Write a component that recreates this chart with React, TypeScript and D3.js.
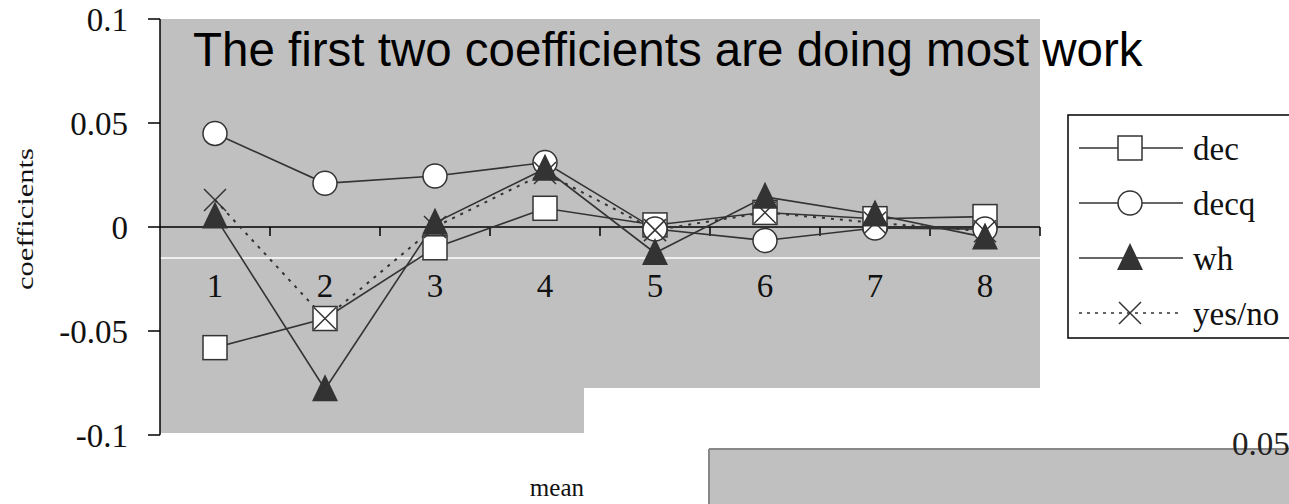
import React, { useEffect, useRef } from 'react';
import * as d3 from 'd3';

const categories = ['1', '2', '3', '4', '5', '6', '7', '8'];
const decValues = [-0.058, -0.044, -0.010, 0.009, 0.001, 0.007, 0.004, 0.005];
const decqValues = [0.045, 0.021, 0.0245, 0.031, -0.001, -0.0065, -0.0005, -0.001];
const whValues = [0.005, -0.078, 0.002, 0.028, -0.0125, 0.0145, 0.006, -0.005];
const yesnoValues = [0.013, -0.044, 0.0, 0.026, -0.0015, 0.007, 0.002, -0.002];
const yTicks = [-0.1, -0.05, 0, 0.05, 0.1];
const yTickLabels = ['-0.1', '-0.05', '0', '0.05', '0.1'];
const seriesNames = ['dec', 'decq', 'wh', 'yes/no'];

const INK = '#333';
const GREY = '#c0c0c0';
const SERIF = '"Liberation Serif", "Times New Roman", serif';

function drawMarker(g: d3.Selection<SVGGElement, unknown, null, undefined>, kind: string) {
  if (kind === 'dec') {
    g.append('rect').attr('x', -12).attr('y', -12).attr('width', 24).attr('height', 24)
      .attr('fill', '#fff').attr('stroke', INK).attr('stroke-width', 1.5);
  } else if (kind === 'decq') {
    g.append('circle').attr('r', 12).attr('fill', '#fff').attr('stroke', INK).attr('stroke-width', 1.5);
  } else if (kind === 'wh') {
    g.append('path').attr('d', 'M0,-15L13,12L-13,12Z').attr('fill', INK);
  } else {
    g.append('path').attr('d', 'M-11,-11L11,11M11,-11L-11,11')
      .attr('stroke', INK).attr('stroke-width', 1.5).attr('fill', 'none');
  }
}

function App() {
  const ref = useRef<SVGSVGElement>(null);

  useEffect(() => {
    if (!ref.current) return;
    const svg = d3.select(ref.current);
    svg.selectAll('*').remove();

    const left = 160, right = 1040, top = 19, bottom = 435;
    const x = d3.scaleBand().domain(categories).range([left, right]);
    const y = d3.scaleLinear().domain([-0.1, 0.1]).range([bottom, top]);
    const cx = (c: string) => (x(c) as number) + x.bandwidth() / 2;

    // grey plot background, with the notch cut out bottom right
    svg.append('path')
      .attr('d', `M${left},${top}H${right}V388H584V${bottom - 2}H${left}Z`)
      .attr('fill', GREY);

    // lower grey panel (part of another chart)
    svg.append('rect').attr('x', 709).attr('y', 449).attr('width', 600).attr('height', 80).attr('fill', GREY);
    svg.append('line').attr('x1', 709).attr('x2', 1289).attr('y1', 449).attr('y2', 449)
      .attr('stroke', '#888').attr('stroke-width', 2);
    svg.append('line').attr('x1', 709).attr('x2', 709).attr('y1', 449).attr('y2', 504)
      .attr('stroke', '#888').attr('stroke-width', 2);
    svg.append('text').attr('x', 1232).attr('y', 455).attr('font-family', SERIF)
      .attr('font-size', 33).attr('fill', '#222').text('0.05');

    // white stripe across plot
    svg.append('line').attr('x1', left).attr('x2', right).attr('y1', 258).attr('y2', 258)
      .attr('stroke', '#fff').attr('stroke-width', 1.5);

    // y axis
    const yAxis = svg.append('g');
    yAxis.append('line').attr('x1', left).attr('x2', left).attr('y1', top).attr('y2', bottom)
      .attr('stroke', '#000').attr('stroke-width', 1.5);
    yTicks.forEach((t, i) => {
      yAxis.append('line').attr('x1', left - 12).attr('x2', left).attr('y1', y(t)).attr('y2', y(t))
        .attr('stroke', '#000').attr('stroke-width', 1.5);
      yAxis.append('text').attr('x', 128).attr('y', y(t) + 12).attr('text-anchor', 'end')
        .attr('font-family', SERIF).attr('font-size', 33).attr('fill', '#111').text(yTickLabels[i]);
    });

    // x axis at zero
    const xAxis = svg.append('g');
    xAxis.append('line').attr('x1', left).attr('x2', right).attr('y1', y(0)).attr('y2', y(0))
      .attr('stroke', '#000').attr('stroke-width', 1.5);
    categories.forEach((c) => {
      const xe = (x(c) as number) + x.bandwidth();
      xAxis.append('line').attr('x1', xe).attr('x2', xe).attr('y1', y(0)).attr('y2', y(0) + 9)
        .attr('stroke', '#000').attr('stroke-width', 1.5);
      xAxis.append('text').attr('x', cx(c)).attr('y', 297).attr('text-anchor', 'middle')
        .attr('font-family', SERIF).attr('font-size', 33).attr('fill', '#111').text(c);
    });

    // axis titles
    svg.append('text').attr('transform', 'translate(33,219) rotate(-90)').attr('text-anchor', 'middle')
      .attr('font-family', SERIF).attr('font-size', 23).attr('fill', '#111')
      .attr('textLength', 142).attr('lengthAdjust', 'spacingAndGlyphs').text('coefficients');
    svg.append('text').attr('x', 584).attr('y', 496).attr('text-anchor', 'end')
      .attr('font-family', SERIF).attr('font-size', 25).attr('fill', '#111').text('mean');

    const allSeries = [decValues, decqValues, whValues, yesnoValues];
    const line = d3.line<number>().x((_, i) => cx(categories[i])).y((d) => y(d));

    allSeries.forEach((vals, s) => {
      svg.append('path').datum(vals).attr('d', line).attr('fill', 'none')
        .attr('stroke', INK).attr('stroke-width', s === 3 ? 2 : 1.6)
        .attr('stroke-dasharray', s === 3 ? '3,6' : null);
    });
    allSeries.forEach((vals, s) => {
      vals.forEach((v, i) => {
        const g = svg.append('g').attr('transform', `translate(${cx(categories[i])},${y(v)})`);
        drawMarker(g, seriesNames[s] === 'yes/no' ? 'yesno' : seriesNames[s]);
      });
    });

    // title
    svg.append('text').attr('x', 193).attr('y', 66)
      .attr('font-family', '"Liberation Sans", Arial, sans-serif').attr('font-size', 47.5)
      .attr('fill', '#000').text('The first two coefficients are doing most work');

    // legend
    const legend = svg.append('g');
    legend.append('rect').attr('x', 1068).attr('y', 115).attr('width', 260).attr('height', 223)
      .attr('fill', '#fff').attr('stroke', '#000').attr('stroke-width', 1.5);
    seriesNames.forEach((name, i) => {
      const ly = 148 + i * 55;
      legend.append('line').attr('x1', 1079).attr('x2', 1183).attr('y1', ly).attr('y2', ly)
        .attr('stroke', INK).attr('stroke-width', 1.5)
        .attr('stroke-dasharray', i === 3 ? '3,5' : null);
      const g = legend.append('g').attr('transform', `translate(1130,${ly})`);
      drawMarker(g, name === 'yes/no' ? 'yesno' : name);
      legend.append('text').attr('x', 1193).attr('y', ly + 12).attr('font-family', SERIF)
        .attr('font-size', 33).attr('fill', '#111').text(name);
    });
  }, []);

  return (
    <svg ref={ref} width={1289} height={504}
      style={{ position: 'absolute', left: 0, top: 0, background: '#fff' }} />
  );
}

export default App;
